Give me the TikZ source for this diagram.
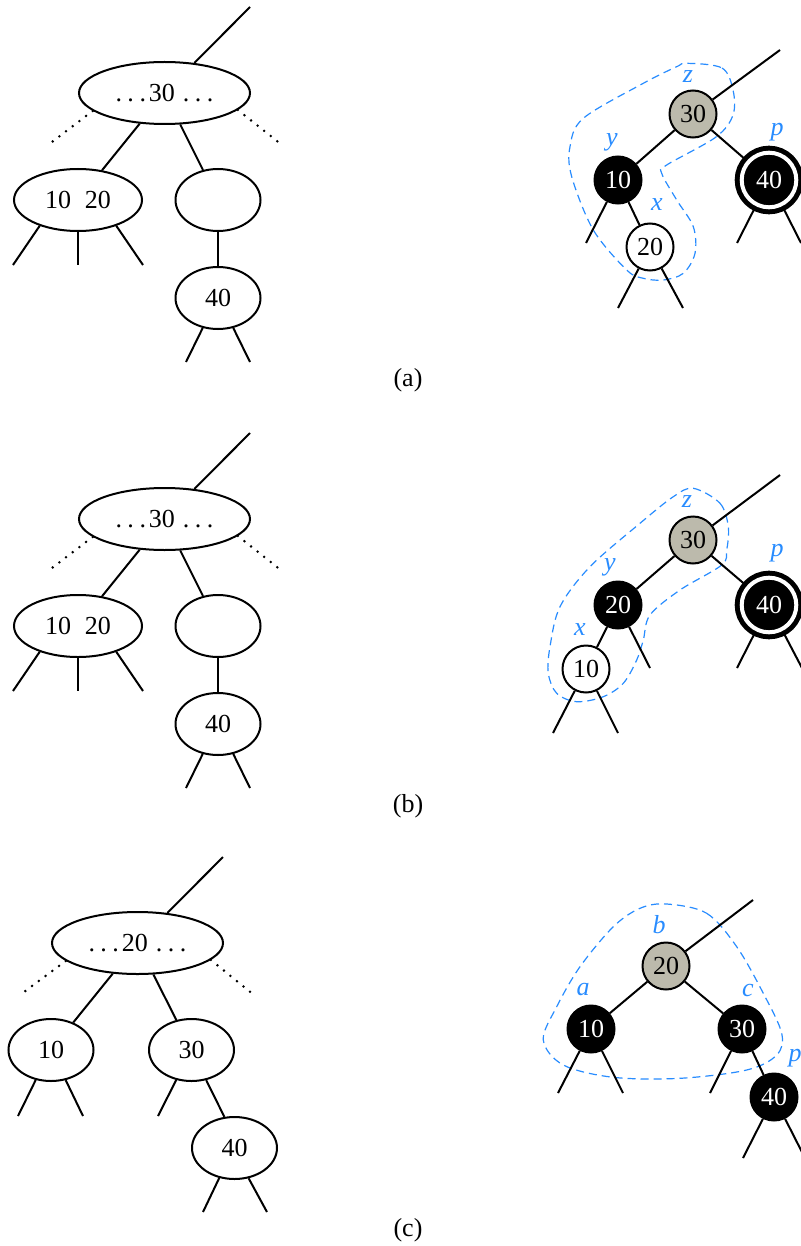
\documentclass[tikz,border=0pt]{standalone}
\usepackage{fontspec}
\setmainfont{Liberation Serif}
\usetikzlibrary{shapes.geometric}
\definecolor{lblue}{RGB}{40,140,255}
\definecolor{ngray}{RGB}{188,186,172}
\newcommand{\mydots}{.\kern2.75pt.\kern2.75pt.}
\newcommand{\dotsnum}[1]{\mydots\kern1.5pt#1\kern4pt\mydots}
\tikzset{
  edge/.style={line width=1pt},
  ell/.style={ellipse, draw, line width=1pt, inner sep=0pt, font=\fontsize{13}{15}\selectfont},
  wideell/.style={ell, minimum width=85.5pt, minimum height=31pt},
  pairell/.style={ell, minimum width=64pt, minimum height=31pt},
  smallell/.style={ell, minimum width=42.5pt, minimum height=31pt},
  rb/.style={circle, draw, line width=1pt, minimum size=23.5pt, inner sep=0pt, font=\fontsize{13}{15}\selectfont},
  blk/.style={rb, fill=black, text=white},
  gry/.style={rb, fill=ngray},
  wht/.style={rb, fill=white},
  dblk/.style={circle, fill=black, draw=black, text=white, line width=2.5pt, double=white, double distance=2pt, minimum size=27.3pt, inner sep=0pt, font=\fontsize{13}{15}\selectfont},
  lbl/.style={text=lblue, font=\fontsize{13}{15}\selectfont\itshape, inner sep=0pt},
  dotline/.style={line width=1.4pt, line cap=round, dash pattern=on 0pt off 4.2pt},
  region/.style={draw=lblue, line width=0.6pt, dash pattern=on 4pt off 2.5pt},
  captext/.style={font=\fontsize{13}{15}\selectfont},
}
\newcommand{\lefttreeAB}{%
  \node[wideell] (T) at (164.5,93) {\dotsnum{30}};
  \node[pairell] (L) at (78,200) {10\hspace{7pt}20};
  \node[smallell] (E) at (218,200) {};
  \node[smallell] (F) at (218,298) {40};
  \coordinate (Ttop) at (250,7);
  \coordinate (Tdl) at (48,145);
  \coordinate (Tdr) at (282,145);
  \coordinate (L1) at (13,265);
  \coordinate (L2) at (78,265);
  \coordinate (L3) at (143,265);
  \coordinate (F1) at (186,362);
  \coordinate (F2) at (250,362);
  \draw[edge] (T) -- (Ttop);
  \draw[dotline] (T.194) -- (Tdl);
  \draw[dotline] (T.-13) -- (Tdr);
  \draw[edge] (T) -- (L);
  \draw[edge] (T) -- (E);
  \draw[edge] (E) -- (F);
  \draw[edge] (L.214) -- (L1);
  \draw[edge] (L.270) -- (L2);
  \draw[edge] (L.326) -- (L3);
  \draw[edge] (F.243) -- (F1);
  \draw[edge] (F.297) -- (F2);
}
\begin{document}
\begin{tikzpicture}[x=0.5pt,y=-0.5pt]
\useasboundingbox (0,0) rectangle (801,1246);

% ---------------- (a) ----------------
\begin{scope}[name prefix=a-]
  \lefttreeAB
\end{scope}
\draw[region] plot[smooth cycle, tension=0.55] coordinates {
  (686.7,63.3) (722,68) (733,90) (733,115) (716,137) (666.7,165)
  (661.7,173.3) (676.7,200) (693.3,226.7) (695,253.3) (683.3,273.3) (663.3,280)
  (643.3,278.3) (626.7,270) (593.3,230) (571.7,176.7) (570,146.7) (583.3,118.3)
  (643.3,83.3) (676.7,66.7)};
\node[gry] (aZ) at (693,114) {30};
\node[blk] (aY) at (618,180) {10};
\node[dblk] (aP) at (769,180) {40};
\node[wht] (aX) at (650,247) {20};
\coordinate (aztop) at (780,50);
\coordinate (ay1) at (586,243);
\coordinate (ax1) at (618,308);
\coordinate (ax2) at (683,308);
\coordinate (ap1) at (737,243);
\coordinate (ap2) at (801,243);
\draw[edge] (aZ) -- (aztop);
\draw[edge] (aZ) -- (aY);
\draw[edge] (aZ) -- (aP);
\draw[edge] (aY) -- (ay1);
\draw[edge] (aY) -- (aX);
\draw[edge] (aX) -- (ax1);
\draw[edge] (aX) -- (ax2);
\draw[edge] (aP) -- (ap1);
\draw[edge] (aP) -- (ap2);
\node[lbl] (alz) at (688,77) {z};
\node[lbl] (aly) at (612,142) {y};
\node[lbl] (alx) at (657,205) {x};
\node[lbl] (alp) at (777,132) {p};
\node[captext] (capa) at (408,380) {(a)};

% ---------------- (b) ----------------
\begin{scope}[shift={(0,426)}, name prefix=b-]
  \lefttreeAB
\end{scope}
\draw[region] plot[smooth cycle, tension=0.55] coordinates {
  (693.3,488.3) (720,503.3) (728.3,526.7) (726.7,550) (721.7,565) (680,590)
  (650,615) (643.3,640) (636.7,660) (623.3,683.3) (603.3,696.7) (576.7,701.7)
  (556.7,693.3) (548.3,673.3) (550,646.7) (560,606.7) (590,566.7) (640,523.3)
  (673.3,496.7)};
\node[gry] (bZ) at (693,540) {30};
\node[blk] (bY) at (618,605) {20};
\node[dblk] (bP) at (769,605) {40};
\node[wht] (bX) at (586,669) {10};
\coordinate (bztop) at (780,475);
\coordinate (by1) at (650,668);
\coordinate (bx1) at (553,733);
\coordinate (bx2) at (618,733);
\coordinate (bp1) at (737,668);
\coordinate (bp2) at (802,668);
\draw[edge] (bZ) -- (bztop);
\draw[edge] (bZ) -- (bY);
\draw[edge] (bZ) -- (bP);
\draw[edge] (bY) -- (by1);
\draw[edge] (bY) -- (bX);
\draw[edge] (bX) -- (bx1);
\draw[edge] (bX) -- (bx2);
\draw[edge] (bP) -- (bp1);
\draw[edge] (bP) -- (bp2);
\node[lbl] (blz) at (687,502) {z};
\node[lbl] (bly) at (610,567) {y};
\node[lbl] (blx) at (580,630) {x};
\node[lbl] (blp) at (777,553) {p};
\node[captext] (capb) at (408,806) {(b)};

% ---------------- (c) ----------------
\node[wideell] (cT) at (137.5,943) {\dotsnum{20}};
\node[smallell] (cL) at (51,1050) {10};
\node[smallell] (cR) at (191.5,1050) {30};
\node[smallell] (cF) at (234.5,1148) {40};
\coordinate (cTtop) at (223,857);
\coordinate (cTdl) at (20,995);
\coordinate (cTdr) at (254,995);
\coordinate (cL1) at (18,1116);
\coordinate (cL2) at (83,1116);
\coordinate (cR1) at (158,1116);
\coordinate (cF1) at (203,1212);
\coordinate (cF2) at (267,1212);
\draw[edge] (cT) -- (cTtop);
\draw[dotline] (cT.194) -- (cTdl);
\draw[dotline] (cT.-13) -- (cTdr);
\draw[edge] (cT) -- (cL);
\draw[edge] (cT) -- (cR);
\draw[edge] (cL.243) -- (cL1);
\draw[edge] (cL.296) -- (cL2);
\draw[edge] (cR.243) -- (cR1);
\draw[edge] (cR.296) -- (cF.108);
\draw[edge] (cF.243) -- (cF1);
\draw[edge] (cF.295) -- (cF2);

\draw[region] plot[smooth cycle, tension=0.55] coordinates {
  (666.7,904) (706.7,913.3) (736.7,946.7) (763.3,993.3) (781.7,1033.3) (776.7,1055)
  (746.7,1070) (680,1078.3) (613.3,1077.3) (563.3,1065) (543.3,1040) (556.7,1006.7)
  (580,966.7) (613.3,926.7) (640,908.3)};
\node[gry] (cB) at (666,966) {20};
\node[blk] (cA) at (591,1029) {10};
\node[blk] (cC) at (742,1029) {30};
\node[blk] (cP) at (774,1097) {40};
\coordinate (cbtop) at (753,900);
\coordinate (ca1) at (558,1093);
\coordinate (ca2) at (623,1093);
\coordinate (cc1) at (710,1093);
\coordinate (cp1) at (743,1158);
\coordinate (cp2) at (806,1160);
\draw[edge] (cB) -- (cbtop);
\draw[edge] (cB) -- (cA);
\draw[edge] (cB) -- (cC);
\draw[edge] (cA) -- (ca1);
\draw[edge] (cA) -- (ca2);
\draw[edge] (cC) -- (cc1);
\draw[edge] (cC) -- (cP);
\draw[edge] (cP) -- (cp1);
\draw[edge] (cP) -- (cp2);
\node[lbl] (clb) at (659,925) {b};
\node[lbl] (cla) at (583,990) {a};
\node[lbl] (clc) at (748,990) {c};
\node[lbl] (clp) at (795,1058) {p};
\node[captext] (capc) at (408,1230) {(c)};
\end{tikzpicture}
\end{document}
